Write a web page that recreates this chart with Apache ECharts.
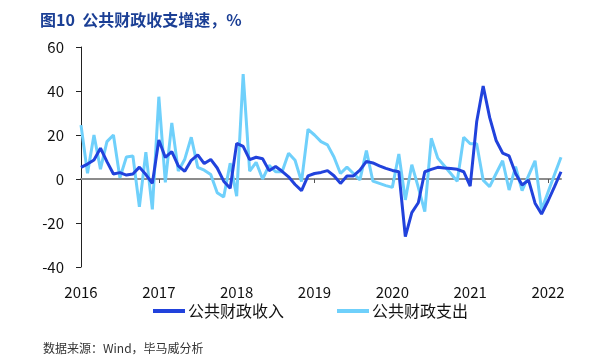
<!DOCTYPE html>
<html><head><meta charset="utf-8">
<script src="https://cdn.jsdelivr.net/npm/echarts@6/dist/echarts.min.js"></script>
<style>html,body{margin:0;padding:0;background:#fff}#c{width:594px;height:355px}</style>
</head><body><div id="c"></div>
<script>
var years = ['2016','2017','2018','2019','2020','2021','2022'];
var yTicks = [-40, -20, 0, 20, 40, 60];
var seriesNames = ['公共财政收入', '公共财政支出'];
var revenue = [5.3,6.8,8.6,14,7.9,2.3,2.9,1.8,2.3,5.4,2,-2,
  17.7,9.8,12.4,6,3.5,8.5,11,7,8.9,5,-1,-4.2,
  16.2,14.8,8.8,9.9,9.2,3.8,5.7,3.5,1,-2.5,-5.3,1.4,
  2.5,3,3.8,1.5,-2,1.4,1.4,4,8,7.3,6,4.8,
  3.9,3.3,-26.2,-15.3,-10.8,3.3,4.4,5.3,5,4.8,4.4,3.3,
  -3.2,26,42.3,28,17.5,11.8,10.5,2.5,-2.7,-0.5,-11,-15.9,
  -10,-3.5,3.3];
var expenditure = [24.5,2.6,20,4.5,17,20,0.5,10,10.5,-12.6,12.2,-13.8,
  37.4,-1.5,25.5,3.6,9,19,5.3,4,2,-6.2,-8.2,7.2,
  -7.8,47.7,3.6,7.6,0,6.2,3.3,3.3,11.7,8.5,-1.2,22.6,
  20,17,15.5,10,2.5,5.4,2.5,-0.4,12.9,-1,-2,-3,
  -3.8,11.4,-9.5,6.5,-3.8,-14.8,18.5,9.5,6,2.5,-1,19,
  16,16,-0.5,-3.5,2.5,8.3,-5,5.6,-5.3,1.5,8.3,-14,
  -6,2,9.9];

var months = [];
for (var i = 0; i < revenue.length; i++) {
  var y = 2016 + Math.floor(i / 12), m = i % 12 + 1;
  months.push(y + '-' + (m < 10 ? '0' + m : m));
}
var FONT = '"Noto Sans CJK SC", "Noto Sans", sans-serif';
var chart = echarts.init(document.getElementById('c'), null, {renderer: 'canvas'});
chart.setOption({
  animation: false,
  backgroundColor: '#ffffff',
  title: [{
    text: '图10  公共财政收支增速，%',
    left: 35, top: 7,
    textStyle: {fontFamily: FONT, fontSize: 16, fontWeight: 'bold', color: '#1b3f95'}
  }, {
    text: '数据来源：Wind，毕马威分析',
    left: 38, top: 337,
    textStyle: {fontFamily: FONT, fontSize: 12, fontWeight: 'normal', color: '#333'}
  }],
  legend: {
    data: seriesNames,
    left: 148, top: 298,
    itemWidth: 32, itemHeight: 4, itemGap: 53,
    icon: 'rect',
    textStyle: {fontFamily: FONT, fontSize: 16, color: '#111', padding: [0, 0, 0, -2]}
  },
  grid: {left: 81, right: 33, top: 47, bottom: 88, containLabel: false},
  xAxis: [{
    type: 'category', data: months, boundaryGap: false,
    axisLine: {show: false, onZero: false},
    axisTick: {show: false},
    axisLabel: {
      interval: function (i) { return i % 12 === 0; },
      formatter: function (v) { return v.slice(0, 4); },
      fontFamily: FONT, fontSize: 15, color: '#111', margin: 18
    },
    splitLine: {show: false}
  }, {
    type: 'category', data: months, boundaryGap: false, position: 'bottom',
    axisLine: {show: true, onZero: true, lineStyle: {color: '#8c8c8c', width: 2}},
    axisTick: {show: true, inside: false, length: 4, interval: function (i) { return i % 12 === 0 && i > 0; }, lineStyle: {color: '#555', width: 1}},
    axisLabel: {show: false},
    splitLine: {show: false}
  }],
  yAxis: {
    type: 'value', min: yTicks[0], max: yTicks[yTicks.length - 1], interval: 20,
    axisLine: {show: true, onZero: false, lineStyle: {color: '#222', width: 1}},
    axisTick: {show: true, length: 5, lineStyle: {color: '#222'}},
    axisLabel: {fontFamily: FONT, fontSize: 15, color: '#111', margin: 17},
    splitLine: {show: false}
  },
  series: [{
    name: seriesNames[0], type: 'line', data: revenue, xAxisIndex: 0,
    showSymbol: false, symbol: 'none',
    lineStyle: {color: '#2142dc', width: 3}, itemStyle: {color: '#2142dc'}, z: 3
  }, {
    name: seriesNames[1], type: 'line', data: expenditure, xAxisIndex: 0,
    showSymbol: false, symbol: 'none',
    lineStyle: {color: '#6fd0fb', width: 3}, itemStyle: {color: '#6fd0fb'}, z: 2
  }]
});
</script></body></html>
